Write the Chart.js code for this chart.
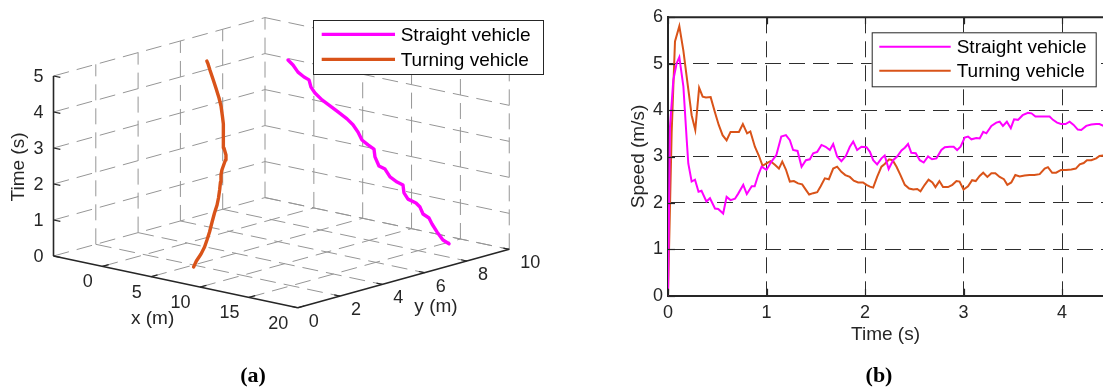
<!DOCTYPE html>
<html><head><meta charset="utf-8">
<script src="https://cdn.jsdelivr.net/npm/chart.js@4.4.1/dist/chart.umd.min.js"></script>
<style>
html,body{margin:0;padding:0;background:#fff;}
body{width:1103px;height:387px;position:relative;overflow:hidden;}
#c3d{position:absolute;left:0;top:0;}
#cspd{position:absolute;left:560px;top:0;}
.cap{position:absolute;top:362px;line-height:24px;font:bold 22px "Liberation Serif",serif;color:#000;transform:translateX(-50%);white-space:nowrap;}
</style></head><body>
<canvas id="c3d" width="560" height="387"></canvas>
<canvas id="cspd" width="543" height="387"></canvas>
<div class="cap" style="left:253px">(a)</div>
<div class="cap" style="left:879px">(b)</div>
<script>
// ---------- shared ----------
const seriesNames = ['Straight vehicle', 'Turning vehicle'];
const seriesColors = ['#FF00FF', '#D95319'];

// ---------- (a) 3D trajectories ----------
const xLim3d = [-5, 20];
const yLim3d = [0, 10];
const tLim3d = [0, 5];
const xTicks3d = [0, 5, 10, 15, 20];
const yTicks3d = [0, 2, 4, 6, 8, 10];
const tTicks3d = [0, 1, 2, 3, 4, 5];

const straightX = [15.35, 14.73, 14.12, 13.61, 13.30, 12.69, 12.38, 11.97, 11.15, 10.74, 10.64, 10.03, 9.31, 8.80, 8.18, 7.77, 7.67, 7.06, 6.44, 6.03, 5.52, 4.91, 3.99, 3.17, 2.35, 1.63, 1.22, 1.02, 0.51, -0.11, -0.62, -1.13];
const straightY = [9.3, 9.3, 9.3, 9.3, 9.3, 9.3, 9.3, 9.3, 9.3, 9.3, 9.3, 9.3, 9.3, 9.3, 9.3, 9.3, 9.3, 9.3, 9.3, 9.3, 9.3, 9.3, 9.3, 9.3, 9.3, 9.3, 9.3, 9.3, 9.3, 9.3, 9.3, 9.3];
const straightT = [0, 0.07, 0.26, 0.45, 0.60, 0.675, 0.85, 0.94, 1.00, 1.15, 1.36, 1.41, 1.51, 1.70, 1.75, 1.98, 2.19, 2.27, 2.37, 2.57, 2.74, 2.87, 3.01, 3.13, 3.25, 3.40, 3.54, 3.73, 3.78, 3.88, 4.05, 4.16];

const turningX = [5.42, 5.25, 5.12, 4.94, 4.69, 4.39, 3.98, 3.62, 3.32, 3.01, 2.63, 2.24, 1.88, 1.65, 1.30, 1.05, 0.54, 0.07, -0.38, -0.85, -1.33, -1.97, -2.54, -3.27, -3.94, -4.62, -5.07, -5.30];
const turningY = [1.81, 2.02, 2.30, 2.55, 2.78, 3.04, 3.35, 3.63, 3.89, 4.10, 4.33, 4.55, 4.74, 4.89, 5.22, 5.36, 5.50, 5.70, 5.90, 6.10, 6.29, 6.52, 6.69, 6.88, 7.05, 7.22, 7.34, 7.39];
const turningT = [0, 0.122, 0.265, 0.408, 0.55, 0.714, 0.917, 1.10, 1.264, 1.407, 1.57, 1.733, 1.876, 1.978, 2.182, 2.284, 2.426, 2.59, 2.753, 2.915, 3.078, 3.282, 3.445, 3.649, 3.833, 4.016, 4.139, 4.2];

// ---------- (b) speed ----------
const speedTicksX = [0, 1, 2, 3, 4];
const speedTicksY = [0, 1, 2, 3, 4, 5, 6];
const straightTime = [0, 0.02, 0.054, 0.088, 0.115, 0.156, 0.19, 0.206, 0.24, 0.274, 0.31, 0.34, 0.39, 0.426, 0.477, 0.51, 0.56, 0.595, 0.635, 0.68, 0.713, 0.764, 0.8, 0.85, 0.88, 0.916, 0.95, 1.0, 1.05, 1.1, 1.15, 1.197, 1.237, 1.27, 1.315, 1.356, 1.4, 1.44, 1.474, 1.515, 1.558, 1.6, 1.643, 1.677, 1.717, 1.76, 1.805, 1.846, 1.88, 1.92, 1.964, 2.015, 2.05, 2.083, 2.123, 2.167, 2.2, 2.24, 2.285, 2.326, 2.37, 2.404, 2.437, 2.47, 2.515, 2.556, 2.596, 2.64, 2.68, 2.725, 2.775, 2.81, 2.86, 2.9, 2.935, 2.97, 3.012, 3.046, 3.08, 3.13, 3.164, 3.2, 3.232, 3.283, 3.333, 3.367, 3.4, 3.44, 3.48, 3.513, 3.553, 3.6, 3.655, 3.69, 3.73, 3.773, 3.824, 3.874, 3.908, 3.95, 3.99, 4.036, 4.077, 4.118, 4.16, 4.195, 4.246, 4.297, 4.347, 4.38, 4.42];
const straightSpeed = [0, 3.64, 4.65, 5.01, 5.14, 4.51, 3.36, 2.85, 2.46, 2.5, 2.24, 2.26, 2.03, 2.1, 1.88, 1.87, 1.77, 2.13, 2.06, 2.09, 2.2, 2.39, 2.19, 2.36, 2.36, 2.6, 2.78, 2.71, 2.89, 3.03, 3.43, 3.46, 3.35, 3.14, 3.12, 2.78, 2.92, 2.94, 3.07, 3.1, 3.25, 3.21, 3.14, 3.27, 3.0, 2.9, 3.01, 3.21, 3.32, 3.14, 3.21, 3.2, 3.1, 2.92, 2.83, 2.96, 3.02, 2.73, 2.92, 3.0, 3.13, 3.19, 3.27, 3.08, 3.07, 2.92, 2.87, 3.0, 2.94, 2.96, 3.14, 3.2, 3.21, 3.21, 3.14, 3.21, 3.41, 3.43, 3.37, 3.4, 3.39, 3.53, 3.5, 3.66, 3.73, 3.75, 3.66, 3.75, 3.61, 3.8, 3.79, 3.89, 3.94, 3.93, 3.86, 3.86, 3.86, 3.86, 3.79, 3.73, 3.7, 3.7, 3.75, 3.68, 3.58, 3.57, 3.66, 3.69, 3.7, 3.7, 3.66];
const turningTime = [0, 0.037, 0.071, 0.115, 0.156, 0.2, 0.24, 0.277, 0.316, 0.352, 0.385, 0.433, 0.477, 0.515, 0.554, 0.595, 0.635, 0.68, 0.72, 0.76, 0.803, 0.836, 0.882, 0.926, 0.96, 1.0, 1.04, 1.085, 1.126, 1.16, 1.197, 1.237, 1.278, 1.32, 1.362, 1.4, 1.433, 1.474, 1.515, 1.55, 1.592, 1.633, 1.677, 1.717, 1.76, 1.8, 1.846, 1.886, 1.93, 1.98, 2.015, 2.05, 2.083, 2.123, 2.167, 2.2, 2.245, 2.28, 2.32, 2.36, 2.404, 2.448, 2.49, 2.53, 2.563, 2.606, 2.645, 2.684, 2.715, 2.755, 2.792, 2.843, 2.887, 2.928, 2.96, 3.0, 3.046, 3.087, 3.124, 3.164, 3.2, 3.242, 3.283, 3.323, 3.367, 3.41, 3.445, 3.485, 3.526, 3.57, 3.62, 3.67, 3.72, 3.773, 3.824, 3.857, 3.9, 3.94, 3.99, 4.04, 4.094, 4.14, 4.18, 4.22, 4.253, 4.297, 4.347, 4.38, 4.42];
const turningSpeed = [0, 3.5, 5.48, 5.81, 5.28, 4.55, 3.89, 3.57, 4.48, 4.29, 4.27, 4.28, 3.95, 3.68, 3.46, 3.35, 3.53, 3.53, 3.53, 3.7, 3.5, 3.54, 3.21, 3.0, 2.8, 2.85, 2.9, 2.82, 2.74, 2.89, 2.72, 2.46, 2.47, 2.42, 2.4, 2.28, 2.18, 2.21, 2.23, 2.36, 2.53, 2.51, 2.74, 2.78, 2.67, 2.6, 2.56, 2.48, 2.44, 2.44, 2.39, 2.35, 2.33, 2.56, 2.78, 2.84, 2.94, 2.92, 2.78, 2.6, 2.39, 2.31, 2.29, 2.3, 2.25, 2.39, 2.5, 2.44, 2.34, 2.47, 2.34, 2.34, 2.39, 2.47, 2.46, 2.29, 2.36, 2.49, 2.47, 2.58, 2.65, 2.56, 2.64, 2.64, 2.56, 2.51, 2.39, 2.44, 2.6, 2.57, 2.59, 2.6, 2.6, 2.62, 2.74, 2.77, 2.65, 2.65, 2.71, 2.71, 2.72, 2.74, 2.83, 2.86, 2.92, 2.92, 2.96, 3.01, 3.02];

// ---------- styling constants ----------
const FONT = '"Liberation Sans", Arial, Helvetica, sans-serif';
const AXIS_COLOR = '#262626';

// 3D plot box: screen-plane anchor of (xmin,ymin,tmin) and the plane vectors of each full axis span
const box3d = { origin: [53.5, 256], xVec: [244.25, 51.75], yVec: [211.5, -58.4], tVec: [0, -180] };
function project(x, y, t) {
  const a = (x - xLim3d[0]) / (xLim3d[1] - xLim3d[0]);
  const b = (y - yLim3d[0]) / (yLim3d[1] - yLim3d[0]);
  const c = (t - tLim3d[0]) / (tLim3d[1] - tLim3d[0]);
  return {
    x: box3d.origin[0] + a * box3d.xVec[0] + b * box3d.yVec[0] + c * box3d.tVec[0],
    y: box3d.origin[1] + a * box3d.xVec[1] + b * box3d.yVec[1] + c * box3d.tVec[1]
  };
}

function drawLegend(ctx, bx, by, bw, bh, entries, lineX1, lineX2, textX, rowYs, lw) {
  ctx.save();
  ctx.fillStyle = '#ffffff';
  ctx.fillRect(bx, by, bw, bh);
  ctx.strokeStyle = AXIS_COLOR;
  ctx.lineWidth = 1;
  ctx.strokeRect(bx + 0.5, by + 0.5, bw, bh);
  ctx.font = '19px ' + FONT;
  ctx.textBaseline = 'middle';
  ctx.textAlign = 'left';
  entries.forEach((e, i) => {
    ctx.strokeStyle = e.color;
    ctx.lineWidth = lw;
    ctx.beginPath();
    ctx.moveTo(lineX1, rowYs[i]);
    ctx.lineTo(lineX2, rowYs[i]);
    ctx.stroke();
    ctx.fillStyle = '#000';
    ctx.fillText(e.label, textX, rowYs[i] + 1);
  });
  ctx.restore();
}

const box3dPlugin = {
  id: 'box3d',
  beforeDatasetsDraw(chart) {
    const ctx = chart.ctx;
    const sx = chart.scales.x, sy = chart.scales.y;
    const P = (x, y, t) => { const q = project(x, y, t); return [sx.getPixelForValue(q.x), sy.getPixelForValue(q.y)]; };
    const seg = (p, q) => { ctx.beginPath(); ctx.moveTo(p[0], p[1]); ctx.lineTo(q[0], q[1]); ctx.stroke(); };
    const [x0, x1] = xLim3d, [y0, y1] = yLim3d, [t0, t1] = tLim3d;
    ctx.save();
    ctx.strokeStyle = '#969696';
    ctx.lineWidth = 1;
    ctx.setLineDash([16, 8]);
    // left wall (x = xmin)
    tTicks3d.forEach(t => seg(P(x0, y0, t), P(x0, y1, t)));
    yTicks3d.forEach(y => { if (y !== y0) seg(P(x0, y, t0), P(x0, y, t1)); });
    // back wall (y = ymax)
    tTicks3d.forEach(t => seg(P(x0, y1, t), P(x1, y1, t)));
    xTicks3d.forEach(x => seg(P(x, y1, t0), P(x, y1, t1)));
    // floor (t = 0)
    xTicks3d.forEach(x => { if (x !== x1) seg(P(x, y0, t0), P(x, y1, t0)); });
    yTicks3d.forEach(y => { if (y !== y0) seg(P(x0, y, t0), P(x1, y, t0)); });
    ctx.setLineDash([]);
    // axis lines
    ctx.strokeStyle = AXIS_COLOR;
    ctx.lineWidth = 1.6;
    seg(P(x0, y0, t0), P(x1, y0, t0));
    seg(P(x1, y0, t0), P(x1, y1, t0));
    seg(P(x0, y0, t0), P(x0, y0, t1));
    // ticks
    ctx.lineWidth = 1.2;
    xTicks3d.forEach(x => seg(P(x, y0, t0), P(x, y0 + 0.3, t0)));
    yTicks3d.forEach(y => seg(P(x1, y, t0), P(x1 - 0.6, y, t0)));
    tTicks3d.forEach(t => seg(P(x0, y0, t), P(x0 + 0.7, y0, t)));
    // tick labels
    ctx.fillStyle = AXIS_COLOR;
    ctx.font = '18px ' + FONT;
    ctx.textBaseline = 'middle';
    ctx.textAlign = 'right';
    xTicks3d.forEach(x => { const p = P(x, y0, t0); ctx.fillText(String(x), p[0] - 9.5, p[1] + 16); });
    ctx.textAlign = 'left';
    yTicks3d.forEach(y => { const p = P(x1, y, t0); ctx.fillText(String(y), p[0] + 11, p[1] + 14); });
    ctx.textAlign = 'right';
    tTicks3d.forEach(t => { const p = P(x0, y0, t); ctx.fillText(String(t), p[0] - 10, p[1] + 1); });
    // axis titles
    ctx.font = '19px ' + FONT;
    ctx.textAlign = 'center';
    let p = P((x0 + x1) / 2, y0, t0);
    ctx.fillText('x (m)', p[0] - 23, p[1] + 37);
    p = P(x1, (y0 + y1) / 2, t0);
    ctx.fillText('y (m)', p[0] + 32.5, p[1] + 28);
    p = P(x0, y0, (t0 + t1) / 2);
    ctx.save();
    ctx.translate(p[0] - 34.5, p[1] + 1);
    ctx.rotate(-Math.PI / 2);
    ctx.fillText('Time (s)', 0, 0);
    ctx.restore();
    ctx.restore();
  },
  afterDraw(chart) {
    drawLegend(chart.ctx, 313, 20, 230, 54,
      seriesNames.map((n, i) => ({ label: n, color: seriesColors[i] })),
      321.7, 395, 400.7, [34.3, 59.3], 3.2);
  }
};

new Chart(document.getElementById('c3d'), {
  type: 'scatter',
  data: {
    datasets: [
      { label: seriesNames[0], data: straightX.map((x, i) => project(x, straightY[i], straightT[i])),
        borderColor: seriesColors[0], borderWidth: 3.4, showLine: true, pointRadius: 0, tension: 0, borderJoinStyle: 'round', borderCapStyle: 'round' },
      { label: seriesNames[1], data: turningX.map((x, i) => project(x, turningY[i], turningT[i])),
        borderColor: seriesColors[1], borderWidth: 3.4, showLine: true, pointRadius: 0, tension: 0, borderJoinStyle: 'round', borderCapStyle: 'round' }
    ]
  },
  options: {
    responsive: false, animation: false, events: [],
    layout: { padding: 0 },
    plugins: { legend: { display: false }, tooltip: { enabled: false } },
    scales: {
      x: { type: 'linear', min: 0, max: 560, display: false },
      y: { type: 'linear', min: 0, max: 387, reverse: true, display: false }
    }
  },
  plugins: [box3dPlugin]
});

// ---------- (b) chart ----------
const frameTicksPlugin = {
  id: 'frameTicks',
  afterDatasetsDraw(chart) {
    const ctx = chart.ctx, a = chart.chartArea;
    const sx = chart.scales.x, sy = chart.scales.y;
    ctx.save();
    ctx.strokeStyle = AXIS_COLOR;
    ctx.lineWidth = 2;
    ctx.beginPath(); ctx.moveTo(a.left - 1, a.top); ctx.lineTo(a.right, a.top); ctx.stroke();
    ctx.lineWidth = 1.2;
    speedTicksX.forEach(v => {
      const x = Math.round(sx.getPixelForValue(v)) + 0.5;
      ctx.beginPath(); ctx.moveTo(x, a.bottom); ctx.lineTo(x, a.bottom - 7); ctx.stroke();
      ctx.beginPath(); ctx.moveTo(x, a.top); ctx.lineTo(x, a.top + 7); ctx.stroke();
    });
    speedTicksY.forEach(v => {
      const y = Math.round(sy.getPixelForValue(v)) + 0.5;
      ctx.beginPath(); ctx.moveTo(a.left, y); ctx.lineTo(a.left + 7, y); ctx.stroke();
    });
    ctx.restore();
    drawLegend(ctx, 311.7, 32.3, 224, 54,
      seriesNames.map((n, i) => ({ label: n, color: seriesColors[i] })),
      319.3, 390.7, 396.7, [46.7, 70.7], 2);
  }
};

new Chart(document.getElementById('cspd'), {
  type: 'scatter',
  data: {
    datasets: [
      { label: seriesNames[0], data: straightTime.map((t, i) => ({ x: t, y: straightSpeed[i] })),
        borderColor: seriesColors[0], borderWidth: 2, showLine: true, pointRadius: 0, tension: 0 },
      { label: seriesNames[1], data: turningTime.map((t, i) => ({ x: t, y: turningSpeed[i] })),
        borderColor: seriesColors[1], borderWidth: 2, showLine: true, pointRadius: 0, tension: 0 }
    ]
  },
  options: {
    responsive: false, animation: false, events: [],
    layout: { padding: { top: 17.3, right: 0, bottom: 0, left: 0 } },
    plugins: { legend: { display: false }, tooltip: { enabled: false } },
    scales: {
      x: {
        type: 'linear', min: 0, max: 4.416,
        afterBuildTicks: s => { s.ticks = speedTicksX.map(v => ({ value: v })); },
        afterFit: s => { s.height = 91.3; },
        grid: { color: '#2e2e2e', lineWidth: 1, drawTicks: false },
        border: { display: true, color: AXIS_COLOR, width: 2, dash: [16, 8] },
        ticks: { padding: 7, color: AXIS_COLOR, font: { family: FONT, size: 18 }, maxRotation: 0, autoSkip: false },
        title: { display: true, text: 'Time (s)', color: AXIS_COLOR, font: { family: FONT, size: 19 }, padding: { top: 0, bottom: 41 } }
      },
      y: {
        type: 'linear', min: 0, max: 6,
        afterBuildTicks: s => { s.ticks = speedTicksY.map(v => ({ value: v })); },
        afterFit: s => { s.width = 108; },
        grid: { color: '#2e2e2e', lineWidth: 1, drawTicks: false },
        border: { display: true, color: AXIS_COLOR, width: 2, dash: [16, 8] },
        ticks: { padding: 5, color: AXIS_COLOR, font: { family: FONT, size: 18 }, autoSkip: false },
        title: { display: true, text: 'Speed (m/s)', color: AXIS_COLOR, font: { family: FONT, size: 19 }, padding: { top: 67.6, bottom: 0 } }
      }
    }
  },
  plugins: [frameTicksPlugin]
});
</script>
</body></html>
